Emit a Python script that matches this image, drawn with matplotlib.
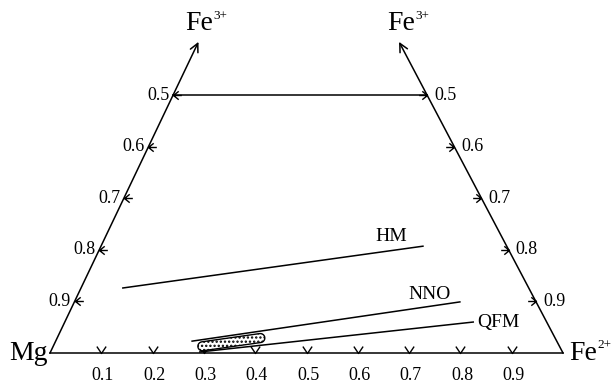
import numpy as np
import matplotlib
matplotlib.use("Agg")
import matplotlib.pyplot as plt
from matplotlib.path import Path
from matplotlib.patches import Polygon

plt.rcParams['font.family'] = ['Liberation Serif', 'DejaVu Serif']
plt.rcParams['hatch.linewidth'] = 1.1

# --- data (x = position along Mg-Fe2+ base, v = Fe3+ side scale, 1 at base, 0.5 at top) ---
base_ticks = [0.1, 0.2, 0.3, 0.4, 0.5, 0.6, 0.7, 0.8, 0.9]
side_ticks = [0.5, 0.6, 0.7, 0.8, 0.9]
left_top_x = 0.240     # left edge at v = 0.5
right_top_x = 0.735    # right edge at v = 0.5
arrow_v = 0.397        # arrow tips above the top line

buffer_names = ['HM', 'NNO', 'QFM']
buffer_x = [[0.142, 0.727], [0.277, 0.799], [0.292, 0.825]]
buffer_v = [[0.874, 0.793], [0.977, 0.901], [0.998, 0.940]]
label_pos = [(0.665, 0.775, 'center'), (0.739, 0.886, 'center'), (0.832, 0.940, 'left')]

blob_x = [0.297, 0.410]
blob_v = [0.987, 0.971]

# --- figure ---
W, H = 615, 386
fig = plt.figure(figsize=(W / 100, H / 100), dpi=100)
ax = fig.add_axes([50 / W, 33 / H, 513 / W, 258 / H])
ax.set_xlim(0, 1)
ax.set_ylim(1, 0.5)
ax.axis('off')

def left_x(v):
    return (1 - v) / 0.5 * left_top_x

def right_x(v):
    return 1 - (1 - v) / 0.5 * (1 - right_top_x)

lw = 1.1
# frame: base, top line, sides with arrows
ax.plot([0, 1], [1, 1], color='k', lw=lw, clip_on=False)
ax.plot([left_x(0.5), right_x(0.5)], [0.5, 0.5], color='k', lw=lw, clip_on=False)
ax.plot([0, left_x(0.5)], [1, 0.5], color='k', lw=lw, clip_on=False)
ax.plot([1, right_x(0.5)], [1, 0.5], color='k', lw=lw, clip_on=False)
for fx in (left_x, right_x):
    ax.annotate('', xy=(fx(arrow_v), arrow_v), xytext=(fx(0.5), 0.5),
                arrowprops=dict(arrowstyle='->,head_length=0.6,head_width=0.3',
                                lw=lw, color='k', shrinkA=0, shrinkB=0),
                annotation_clip=False)

# tick markers (small arrows pointing at the axis)
left_mark = Path([(5, 4), (0, 0), (5, -4), (0, 0), (8, 0)],
                 [Path.MOVETO, Path.LINETO, Path.LINETO, Path.MOVETO, Path.LINETO])
right_mark = Path([(-5, 4), (0, 0), (-5, -4), (0, 0), (-8, 0)],
                  [Path.MOVETO, Path.LINETO, Path.LINETO, Path.MOVETO, Path.LINETO])
base_mark = Path([(-4, 6), (0, 0), (4, 6)], [Path.MOVETO, Path.LINETO, Path.LINETO])

sv = np.array(side_ticks)
mk = dict(ls='none', mec='k', mfc='none', mew=1.0, clip_on=False)
ax.plot(left_x(sv), sv, marker=left_mark, ms=12, **mk)
ax.plot(right_x(sv), sv, marker=right_mark, ms=12, **mk)
ax.plot(base_ticks, [1] * len(base_ticks), marker=base_mark, ms=10, **mk)

tick_fs = 13
for t in base_ticks:
    ax.text(t + 0.003, 1.043, f'{t:.1f}', ha='center', va='center', fontsize=tick_fs)
for v in side_ticks:
    ax.text(left_x(v) - 0.007, v, f'{v:.1f}', ha='right', va='center', fontsize=tick_fs)
    ax.text(right_x(v) + 0.014, v, f'{v:.1f}', ha='left', va='center', fontsize=tick_fs)

# corner labels
big = 20
def ion(x, v, sup):
    ax.text(x, v, 'Fe', ha='right', va='center', fontsize=big)
    ax.annotate(sup, xy=(x, v), xytext=(0.5, 1.5), textcoords='offset points',
                ha='left', va='bottom', fontsize=9.5, annotation_clip=False)

ax.text(-0.005, 1.0, 'Mg', ha='right', va='center', fontsize=big)
ion(1.066, 1.0, '2+')
ion(0.318, 0.362, '3+')
ion(0.711, 0.362, '3+')

# buffer lines
for name, bx, bv, (lx, lv, ha) in zip(buffer_names, buffer_x, buffer_v, label_pos):
    ax.plot(bx, bv, color='k', lw=lw)
    ax.text(lx, lv, name, ha=ha, va='center', fontsize=14)

# dotted field (rounded band)
p0 = ax.transData.transform((blob_x[0], blob_v[0]))
p1 = ax.transData.transform((blob_x[1], blob_v[1]))
d = (p1 - p0) / np.linalg.norm(p1 - p0)
n = np.array([-d[1], d[0]])
r = 4.5
ang = np.arctan2(n[1], n[0])
arc1 = [p1 + r * np.array([np.cos(a), np.sin(a)]) for a in np.linspace(ang - np.pi, ang, 12)]
arc0 = [p0 + r * np.array([np.cos(a), np.sin(a)]) for a in np.linspace(ang, ang + np.pi, 12)]
pts = ax.transData.inverted().transform(np.array(arc1 + arc0))
ax.add_patch(Polygon(pts, closed=True, facecolor='white', edgecolor='k', lw=1.0,
                     hatch='....', zorder=3))

fig.savefig('out.png', dpi=100)
